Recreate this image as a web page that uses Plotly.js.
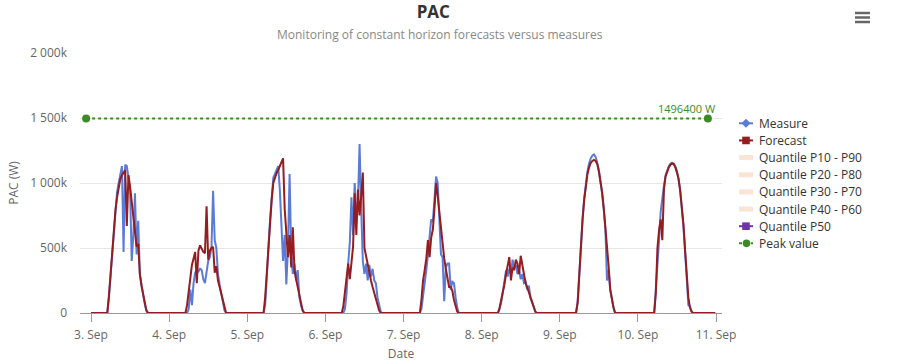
<!DOCTYPE html>
<html><head><meta charset="utf-8">
<script src="https://cdn.plot.ly/plotly-3.0.1.min.js"></script>
<style>html,body{margin:0;padding:0;background:#fff}#chart{width:897px;height:364px}</style>
</head><body><div id="chart"></div>
<script>
// Days and intra-day sample times (values in kW, shown as "k" of W)
const days = ['2023-09-03','2023-09-04','2023-09-05','2023-09-06','2023-09-07','2023-09-08','2023-09-09','2023-09-10'];
const hours = ['05:00','05:30','06:00','06:30','07:00','07:30','08:00','08:30','09:00','09:30','10:00','10:30','11:00','11:30','12:00','12:30','13:00','13:30','14:00','14:30','15:00','15:30','16:00','16:30','17:00','17:30','18:00'];

const measureSep03 = [0,120,280,470,660,820,930,1000,1080,1130,470,1140,1130,1050,950,400,600,920,450,710,300,220,140,70,20,0,0];
const measureSep04 = [0,0,30,180,60,230,310,330,320,340,330,260,230,340,400,430,500,940,560,500,300,220,150,80,20,0,0];
const measureSep05 = [0,60,250,500,720,900,1040,1070,1100,1130,950,620,400,600,220,500,1070,450,300,380,250,330,120,60,20,0,0];
const measureSep06 = [0,0,30,150,380,540,890,600,1000,700,850,1300,800,400,300,380,250,370,280,340,250,230,120,50,10,0,0];
const measureSep07 = [0,30,120,250,330,450,600,720,700,900,1050,1000,750,450,430,90,350,380,380,180,240,230,120,40,0,0,0];
const measureSep08 = [0,30,80,160,250,330,280,340,300,410,350,370,300,330,260,300,230,240,180,210,120,80,40,10,0,0,0];
const measureSep09 = [0,90,330,530,720,880,1000,1090,1150,1190,1210,1220,1200,1160,1100,1020,920,800,650,250,330,180,100,40,0,0,0];
const measureSep10 = [0,180,420,560,780,900,980,1060,1100,1130,1150,1155,1150,1130,1090,1030,940,820,660,470,280,60,50,10,0,0,0];

const forecastSep03 = [0,130,300,480,650,790,890,960,1030,1060,1080,1100,670,1060,970,860,740,620,510,530,300,210,140,70,20,0,0];
const forecastSep04 = [0,60,160,230,370,420,470,230,480,520,490,470,460,820,410,480,500,510,310,360,250,200,150,80,30,0,0];
const forecastSep05 = [0,120,320,520,700,870,1000,1040,1075,1100,1130,1160,1190,800,560,430,600,350,660,330,260,200,120,60,20,0,0];
const forecastSep06 = [0,50,170,300,380,260,420,510,920,600,950,750,900,1080,500,430,380,300,250,200,150,100,60,20,0,0,0];
const forecastSep07 = [0,100,250,330,420,560,430,580,640,800,1000,900,780,620,510,420,340,280,200,200,170,100,60,10,0,0,0];
const forecastSep08 = [0,40,100,150,220,300,360,430,250,350,330,410,380,300,440,350,300,230,200,160,120,80,40,10,0,0,0];
const forecastSep09 = [0,80,320,520,720,870,990,1070,1120,1155,1170,1178,1170,1145,1090,1020,930,810,670,520,360,180,100,45,0,0,0];
const forecastSep10 = [0,150,500,640,720,560,950,1050,1090,1120,1140,1150,1145,1120,1080,1030,940,830,680,480,300,120,40,10,0,0,0];

const seriesStart = '2023-09-03 00:00';
const seriesEnd = '2023-09-10 23:45';
const peakValue = 1496.4;
const peakDates = ['2023-09-02 22:30','2023-09-10 21:30'];
const peakLabel = '1496400 W';
const yTickVals = [0,500,1000,1500,2000];
const yTickText = ['0','500k','1 000k','1 500k','2 000k'];
const legendNames = ['Measure','Forecast','Quantile P10 - P90','Quantile P20 - P80','Quantile P30 - P70','Quantile P40 - P60','Quantile P50','Peak value'];

const measureDays = [measureSep03,measureSep04,measureSep05,measureSep06,measureSep07,measureSep08,measureSep09,measureSep10];
const forecastDays = [forecastSep03,forecastSep04,forecastSep05,forecastSep06,forecastSep07,forecastSep08,forecastSep09,forecastSep10];

function build(arrs){
  const x=[seriesStart], y=[0];
  days.forEach((d,i)=>{ hours.forEach((h,j)=>{ x.push(d+' '+h); y.push(arrs[i][j]); }); });
  x.push(seriesEnd); y.push(0);
  return {x,y};
}
const m = build(measureDays), f = build(forecastDays);

const BLUE='#5a7bd8', RED='#951c1f', PURPLE='#6f35a5', GREEN='#3b8a24', BAND='rgba(250,228,214,1)';
const FONT='Open Sans';

const traces = [
  {x:m.x,y:m.y,type:'scatter',mode:'lines',line:{color:BLUE,width:2},hoverinfo:'skip'},
  {x:f.x,y:f.y,type:'scatter',mode:'lines',line:{color:RED,width:2},hoverinfo:'skip'},
  {x:peakDates,y:[peakValue,peakValue],type:'scatter',mode:'lines+markers',line:{color:GREEN,width:2,dash:'dot'},marker:{color:GREEN,size:8},hoverinfo:'skip'}
];

// custom legend (pixel placement converted to paper coords)
const PL=80, PR=722, PT=53, PB=313;
const PX = px => (px-PL)/(PR-PL);
const PY = py => (PB-py)/(PB-PT);
const legendStyles = [
  {kind:'line',color:BLUE,marker:'diamond'},
  {kind:'line',color:RED,marker:'square'},
  {kind:'band'},{kind:'band'},{kind:'band'},{kind:'band'},
  {kind:'line',color:PURPLE,marker:'square'},
  {kind:'dot',color:GREEN,marker:'circle'}
];
const shapes = [], annotations = [];
legendNames.forEach((name,i)=>{
  const cy = 123.3 + i*17.15, s = legendStyles[i], x0=739, x1=753, cx=746;
  if (s.kind==='band') {
    shapes.push({type:'rect',xref:'paper',yref:'paper',x0:PX(x0),x1:PX(x1),y0:PY(cy-2.5),y1:PY(cy+2.5),fillcolor:BAND,line:{width:0}});
  } else {
    shapes.push({type:'line',xref:'paper',yref:'paper',x0:PX(x0),x1:PX(x1),y0:PY(cy),y1:PY(cy),line:{color:s.color,width:2,dash:s.kind==='dot'?'dot':'solid'}});
    if (s.marker==='diamond') {
      const r=4.5;
      shapes.push({type:'path',xref:'paper',yref:'paper',path:`M ${PX(cx)},${PY(cy-r)} L ${PX(cx+r)},${PY(cy)} L ${PX(cx)},${PY(cy+r)} L ${PX(cx-r)},${PY(cy)} Z`,fillcolor:s.color,line:{width:0}});
    } else if (s.marker==='square') {
      const r=3.8;
      shapes.push({type:'rect',xref:'paper',yref:'paper',x0:PX(cx-r),x1:PX(cx+r),y0:PY(cy+r),y1:PY(cy-r),fillcolor:s.color,line:{width:0}});
    } else {
      const r=3.8;
      shapes.push({type:'circle',xref:'paper',yref:'paper',x0:PX(cx+0.5-r),x1:PX(cx+0.5+r),y0:PY(cy+r),y1:PY(cy-r),fillcolor:s.color,line:{width:0}});
    }
  }
  annotations.push({xref:'paper',yref:'paper',x:PX(757),y:PY(cy),xanchor:'left',yanchor:'middle',text:name,showarrow:false,font:{family:FONT,size:12,color:'#333'}});
});
// subtitle, peak label
annotations.push({xref:'paper',yref:'paper',x:PX(440),y:PY(34),text:'Monitoring of constant horizon forecasts versus measures',showarrow:false,font:{family:FONT,size:12,color:'#888'},xanchor:'center',yanchor:'middle'});
annotations.push({xref:'paper',yref:'y',x:PX(717),y:peakValue,text:peakLabel,showarrow:false,xanchor:'right',yanchor:'bottom',yshift:0,font:{family:FONT,size:11,color:GREEN}});
// menu icon
[13,17.5,22].forEach(py=>shapes.push({type:'line',xref:'paper',yref:'paper',x0:PX(855),x1:PX(870),y0:PY(py),y1:PY(py),line:{color:'#666',width:2.5}}));

const layout = {
  width:897,height:364,showlegend:false,
  margin:{l:PL,r:897-PR,t:PT,b:364-PB},
  paper_bgcolor:'#fff',plot_bgcolor:'#fff',
  font:{family:FONT,color:'#666',size:12},
  title:{text:'<b>PAC</b>',font:{family:FONT,size:17,color:'#333'},xref:'container',x:0.483,xanchor:'center',yref:'container',y:0.966,yanchor:'middle'},
  xaxis:{type:'date',range:['2023-09-02 20:37','2023-09-11 01:50'],tick0:'2023-09-03',dtick:86400000,tickformat:'%-d. %b',
    ticks:'outside',ticklen:8,tickcolor:'#999',tickwidth:1,showline:true,linecolor:'#999',linewidth:1,showgrid:false,zeroline:false,
    ticklabelstandoff:3,tickfont:{family:FONT,size:12,color:'#666'},title:{text:'Date',font:{family:FONT,size:12,color:'#666'},standoff:7}},
  yaxis:{range:[0,2000],tickvals:yTickVals,ticktext:yTickText,showgrid:true,gridcolor:'#e6e6e6',zeroline:false,showline:false,ticks:'',
    ticklabelstandoff:12,tickfont:{family:FONT,size:12,color:'#666'},title:{text:'PAC (W)',font:{family:FONT,size:12,color:'#666'},standoff:8}},
  annotations, shapes
};
Plotly.newPlot('chart',traces,layout,{displayModeBar:false,staticPlot:true});
</script></body></html>
